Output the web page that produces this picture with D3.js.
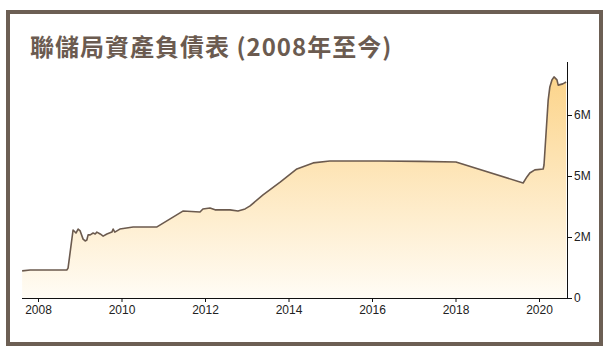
<!DOCTYPE html>
<html>
<head>
<meta charset="utf-8">
<script src="https://cdn.jsdelivr.net/npm/d3@7"></script>
<style>
  body { margin: 0; background: #fff; }
  .axis text { font-family: "Liberation Sans Narrow", "Liberation Sans", Arial, sans-serif; font-size: 12px; fill: #222; }
  .axis path, .axis line { stroke: #111; }
</style>
</head>
<body>
<div id="chart"></div>
<script>
// --------------------------------------
//  Data (year as decimal, value in trillions USD)
// --------------------------------------
const years = [2007.62, 2007.81, 2008.69, 2008.72, 2008.84, 2008.91, 2008.96, 2009.01, 2009.08, 2009.13,
  2009.17, 2009.20, 2009.25, 2009.32, 2009.37, 2009.41, 2009.49, 2009.56, 2009.65, 2009.77,
  2009.80, 2009.84, 2009.96, 2010.28, 2010.85, 2011.47, 2011.88, 2011.95, 2012.12, 2012.24,
  2012.60, 2012.79, 2012.96, 2013.08, 2013.39, 2013.80, 2014.20, 2014.59, 2014.99, 2016.19,
  2017.15, 2018.01, 2019.62, 2019.71, 2019.78, 2019.90, 2020.10, 2020.12, 2020.22, 2020.26,
  2020.31, 2020.36, 2020.43, 2020.46, 2020.57, 2020.65];
const values = [0.89, 0.92, 0.92, 0.98, 2.23, 2.13, 2.26, 2.20, 1.93, 1.87,
  1.90, 2.07, 2.07, 2.13, 2.10, 2.16, 2.10, 2.03, 2.10, 2.16,
  2.26, 2.16, 2.26, 2.33, 2.33, 2.85, 2.82, 2.92, 2.95, 2.89,
  2.89, 2.85, 2.92, 3.02, 3.38, 3.80, 4.23, 4.43, 4.49, 4.49,
  4.48, 4.46, 3.77, 3.97, 4.10, 4.20, 4.23, 4.36, 6.49, 6.92,
  7.15, 7.25, 7.15, 6.98, 7.02, 7.08];
const xTicks = [2008, 2010, 2012, 2014, 2016, 2018, 2020];
const yTicks = [0, 2, 4, 6];
const yTickLabels = ["0", "2M", "5M", "6M"];
const title = "聯儲局資產負債表 (2008年至今)";

const data = years.map((y, i) => ({ year: y, value: values[i] }));

// --------------------------------------
//  Canvas
// --------------------------------------
const width = 609;
const height = 354;
const svg = d3.select("#chart").append("svg")
  .attr("width", width).attr("height", height);

svg.append("rect")
  .attr("x", 8).attr("y", 12).attr("width", 593).attr("height", 332)
  .attr("fill", "#fff").attr("stroke", "#6c5f54").attr("stroke-width", 4);

svg.append("text")
  .attr("x", 30).attr("y", 56)
  .attr("font-family", "'Noto Sans CJK TC', sans-serif")
  .attr("font-weight", "bold").attr("font-size", 24)
  .attr("letter-spacing", 1)
  .attr("fill", "#6b5b50")
  .text(title);

// --------------------------------------
//  Scales
// --------------------------------------
const x = d3.scaleLinear().domain([2008, 2020]).range([38, 539]);
const y = d3.scaleLinear().domain([0, 6]).range([298, 115]);
const xMin = x.invert(22), xMax = x.invert(567);

const defs = svg.append("defs");
const grad = defs.append("linearGradient").attr("id", "fillGrad")
  .attr("gradientUnits", "userSpaceOnUse")
  .attr("x1", 0).attr("y1", y(7.3)).attr("x2", 0).attr("y2", y(0));
grad.append("stop").attr("offset", "0%").attr("stop-color", "#fcd48a");
grad.append("stop").attr("offset", "100%").attr("stop-color", "#fffcf5");

// --------------------------------------
//  Area + line
// --------------------------------------
svg.append("path")
  .datum(data)
  .attr("fill", "url(#fillGrad)")
  .attr("d", d3.area().x(d => x(d.year)).y0(y(0)).y1(d => y(d.value)));

svg.append("path")
  .datum(data)
  .attr("fill", "none")
  .attr("stroke", "#6b5a4e")
  .attr("stroke-width", 1.6)
  .attr("stroke-linejoin", "round")
  .attr("d", d3.line().x(d => x(d.year)).y(d => y(d.value)));

// --------------------------------------
//  Axes
// --------------------------------------
const xAxis = svg.append("g").attr("class", "axis")
  .attr("transform", `translate(0, ${y(0)})`)
  .call(d3.axisBottom(x).tickValues(xTicks).tickFormat(d3.format("d"))
    .tickSize(4).tickPadding(3).tickSizeOuter(0));
xAxis.select(".domain").attr("d", `M${x(xMin)},0.5H${x(xMax)}`);

const yAxis = svg.append("g").attr("class", "axis")
  .attr("transform", `translate(${x(xMax)}, 0)`)
  .call(d3.axisRight(y).tickValues(yTicks).tickFormat((d, i) => yTickLabels[i])
    .tickSize(5).tickPadding(2).tickSizeOuter(0));
yAxis.select(".domain").attr("d", `M0.5,62V${y(0)}`);
</script>
</body>
</html>
